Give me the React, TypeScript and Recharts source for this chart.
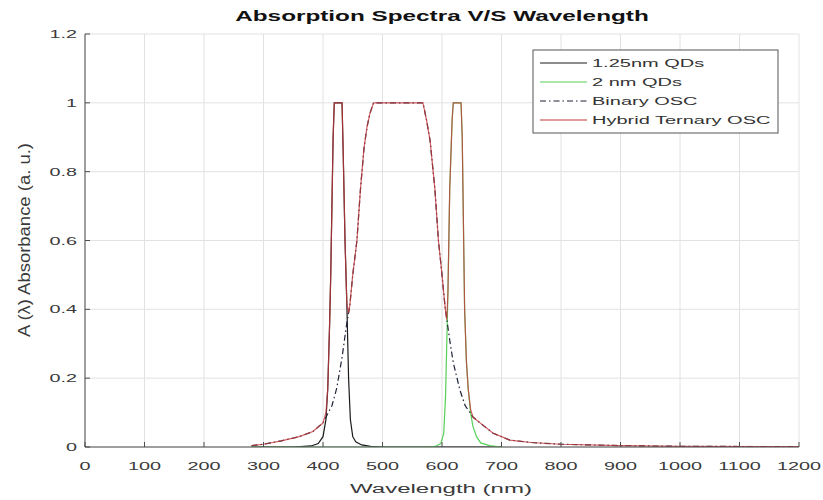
import React from 'react';
import { CartesianGrid, Line, LineChart, XAxis, YAxis } from 'recharts';

const WAVELENGTH_TICKS = [0, 100, 200, 300, 400, 500, 600, 700, 800, 900, 1000, 1100, 1200];
const ABSORBANCE_TICKS = [0, 0.2, 0.4, 0.6, 0.8, 1, 1.2];

// 1.25 nm quantum dots
const qd125Nm = [280, 350, 380, 392, 400, 405, 408, 411, 413, 415, 417, 419, 432, 434, 437, 440, 443, 446, 450, 455, 465, 480, 500, 700];
const qd125Abs = [0, 0, 0.003, 0.01, 0.03, 0.08, 0.17, 0.35, 0.5, 0.7, 0.9, 1, 1, 0.85, 0.6, 0.42, 0.2, 0.08, 0.03, 0.015, 0.006, 0.002, 0, 0];

// 2 nm quantum dots
const qd2Nm = [280, 580, 590, 598, 603, 606, 608, 610, 613, 617, 619, 632, 634, 636, 638, 641, 644, 648, 652, 658, 665, 680, 700];
const qd2Abs = [0, 0, 0.003, 0.01, 0.04, 0.15, 0.3, 0.45, 0.75, 0.95, 1, 1, 0.9, 0.65, 0.4, 0.25, 0.17, 0.1, 0.06, 0.03, 0.012, 0.004, 0];

// binary organic solar cell blend
const binaryNm = [280, 300, 330, 360, 383, 400, 415, 423, 432, 440, 445, 450, 457, 463, 469, 474, 479, 485, 568, 574, 580, 588, 594, 600, 605, 613, 619, 630, 639, 652, 664, 686, 700, 714, 750, 800, 900, 1000, 1200];
const binaryAbs = [0.004, 0.008, 0.018, 0.03, 0.045, 0.07, 0.12, 0.17, 0.26, 0.36, 0.41, 0.5, 0.6, 0.75, 0.87, 0.93, 0.97, 1, 1, 0.95, 0.89, 0.75, 0.6, 0.5, 0.41, 0.31, 0.245, 0.166, 0.12, 0.087, 0.07, 0.04, 0.03, 0.02, 0.013, 0.008, 0.004, 0.002, 0.001];

// hybrid ternary cell (QDs + binary)
const hybridNm = [280, 300, 330, 360, 383, 400, 405, 408, 411, 413, 415, 417, 419, 432, 434, 437, 440, 443, 445, 450, 457, 463, 469, 474, 479, 485, 568, 574, 580, 588, 594, 600, 605, 607, 608, 610, 613, 617, 619, 632, 634, 636, 638, 641, 644, 648, 652, 664, 686, 700, 714, 750, 800, 900, 1000, 1200];
const hybridAbs = [0.004, 0.008, 0.018, 0.03, 0.045, 0.07, 0.1, 0.17, 0.35, 0.5, 0.7, 0.9, 1, 1, 0.85, 0.6, 0.42, 0.39, 0.41, 0.5, 0.6, 0.75, 0.87, 0.93, 0.97, 1, 1, 0.95, 0.89, 0.75, 0.6, 0.5, 0.41, 0.38, 0.37, 0.45, 0.75, 0.95, 1, 1, 0.9, 0.65, 0.4, 0.25, 0.17, 0.11, 0.087, 0.07, 0.04, 0.03, 0.02, 0.013, 0.008, 0.004, 0.002, 0.001];

const toPoints = (nm: number[], abs: number[]) => nm.map((x, i) => ({ nm: x, a: abs[i] }));

const SERIES = [
  { name: '1.25nm QDs', data: toPoints(qd125Nm, qd125Abs), color: '#1a1a1a', dash: undefined, opacity: 1 },
  { name: '2 nm QDs', data: toPoints(qd2Nm, qd2Abs), color: '#58d058', dash: undefined, opacity: 1 },
  { name: 'Binary OSC', data: toPoints(binaryNm, binaryAbs), color: '#1d2238', dash: '6 3 1.5 3', opacity: 1 },
  { name: 'Hybrid Ternary OSC', data: toPoints(hybridNm, hybridAbs), color: '#c4383c', dash: undefined, opacity: 0.8 },
];

const FONT = '"Liberation Sans", Arial, sans-serif';
const AXIS = '#4d4d4d';
const TEXT = '#3a3a3a';
const STRETCH = 1.8;

const BottomTick = ({ x, y, payload }: any) => (
  <g>
    <line x1={x} y1={y} x2={x} y2={y - 5} stroke={AXIS} />
    <text
      transform={`translate(${x},${y + 23}) scale(${STRETCH},1)`}
      textAnchor="middle"
      fontSize={11}
      fontFamily={FONT}
      fill={TEXT}
    >
      {payload.value}
    </text>
  </g>
);

const TopTick = ({ x, y }: any) => <line x1={x} y1={y} x2={x} y2={y + 5} stroke={AXIS} />;

const LeftTick = ({ x, y, payload }: any) => (
  <g>
    <line x1={x} y1={y} x2={x + 5} y2={y} stroke={AXIS} />
    <text
      transform={`translate(${x - 8},${y + 4}) scale(${STRETCH},1)`}
      textAnchor="end"
      fontSize={11}
      fontFamily={FONT}
      fill={TEXT}
    >
      {String(payload.value)}
    </text>
  </g>
);

const RightTick = ({ x, y }: any) => <line x1={x} y1={y} x2={x - 5} y2={y} stroke={AXIS} />;

function LegendBox() {
  return (
    <g>
      <rect x={533} y={50} width={245} height={83} fill="#fff" stroke="#555" strokeWidth={1} />
      {SERIES.map((s, i) => {
        const cy = 63 + i * 19;
        return (
          <g key={s.name}>
            <line
              x1={540}
              y1={cy}
              x2={587}
              y2={cy}
              stroke={s.color}
              strokeWidth={1.2}
              strokeDasharray={s.dash}
            />
            <text
              transform={`translate(592,${cy + 4}) scale(1.74,1)`}
              fontSize={11.5}
              fontFamily={FONT}
              fill="#333"
            >
              {s.name}
            </text>
          </g>
        );
      })}
    </g>
  );
}

export default function App() {
  return (
    <div style={{ position: 'absolute', left: 0, top: 0, width: 823, height: 500, background: '#fff' }}>
      <LineChart width={823} height={500} margin={{ top: 34, right: 24, bottom: 0, left: 0 }}>
        <CartesianGrid stroke="#e2e2e2" strokeWidth={1} />
        <XAxis
          xAxisId={0}
          dataKey="nm"
          type="number"
          domain={[0, 1200]}
          ticks={WAVELENGTH_TICKS}
          height={53}
          tickSize={0}
          tickMargin={0}
          tickLine={false}
          axisLine={{ stroke: AXIS }}
          tick={<BottomTick />}
          interval={0}
          allowDataOverflow
        />
        <XAxis
          xAxisId="top"
          orientation="top"
          dataKey="nm"
          type="number"
          domain={[0, 1200]}
          ticks={WAVELENGTH_TICKS}
          height={0}
          tickSize={0}
          tickMargin={0}
          tickLine={false}
          axisLine={{ stroke: AXIS }}
          tick={<TopTick />}
          interval={0}
          allowDataOverflow
        />
        <YAxis
          yAxisId={0}
          type="number"
          domain={[0, 1.2]}
          ticks={ABSORBANCE_TICKS}
          width={85}
          tickSize={0}
          tickMargin={0}
          tickLine={false}
          axisLine={{ stroke: AXIS }}
          tick={<LeftTick />}
          interval={0}
          allowDataOverflow
        />
        <YAxis
          yAxisId="right"
          orientation="right"
          type="number"
          domain={[0, 1.2]}
          ticks={ABSORBANCE_TICKS}
          width={0}
          tickSize={0}
          tickMargin={0}
          tickLine={false}
          axisLine={{ stroke: AXIS }}
          tick={<RightTick />}
          interval={0}
          allowDataOverflow
        />
        {SERIES.map((s) => (
          <Line
            key={s.name}
            xAxisId={0}
            yAxisId={0}
            data={s.data}
            dataKey="a"
            type="linear"
            stroke={s.color}
            strokeOpacity={s.opacity}
            strokeWidth={1.2}
            strokeDasharray={s.dash}
            dot={false}
            activeDot={false}
            isAnimationActive={false}
          />
        ))}
      </LineChart>
      <svg
        width={823}
        height={500}
        style={{ position: 'absolute', left: 0, top: 0, pointerEvents: 'none' }}
      >
        <text
          transform="translate(442,21) scale(1.62,1)"
          textAnchor="middle"
          fontSize={15}
          fontWeight="bold"
          fontFamily={FONT}
          fill="#111"
        >
          Absorption Spectra V/S Wavelength
        </text>
        <text
          transform="translate(441,493) scale(1.78,1)"
          textAnchor="middle"
          fontSize={13.5}
          fontFamily={FONT}
          fill={TEXT}
        >
          Wavelength (nm)
        </text>
        <text
          transform="translate(30,240) rotate(-90)"
          textAnchor="middle"
          fontSize={16}
          fontFamily={FONT}
          fill={TEXT}
          textLength={194}
          lengthAdjust="spacingAndGlyphs"
        >
          A (λ) Absorbance (a. u.)
        </text>
        <LegendBox />
      </svg>
    </div>
  );
}
